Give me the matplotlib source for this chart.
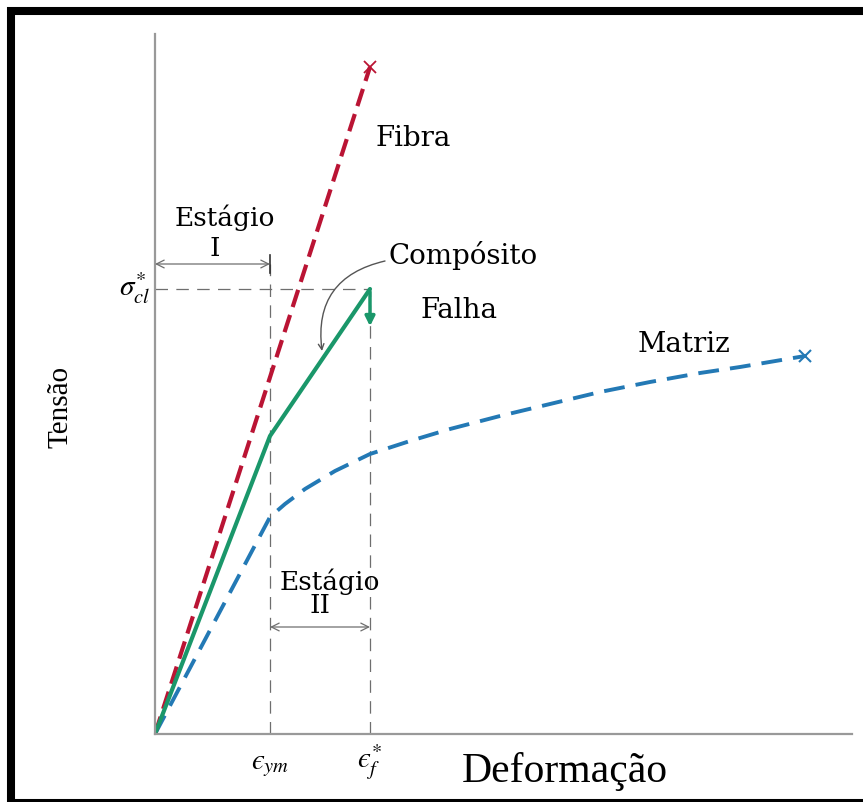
import matplotlib
matplotlib.use('Agg')
import matplotlib.pyplot as plt
from matplotlib.patches import Rectangle

plt.rcParams['mathtext.fontset'] = 'stix'
plt.rcParams['lines.scale_dashes'] = False

# curve data (arbitrary strain / stress units)
fibra_x = [0.0, 2.15]
fibra_y = [0.0, 6.67]

comp_x = [0.0, 1.15, 2.15]
comp_y = [0.0, 2.98, 4.45]
falha_y = 4.05

matriz_x = [0.0, 1.15, 1.30, 1.50, 1.80, 2.15, 2.55, 2.95, 3.45, 3.95, 4.45, 4.95, 5.45, 5.85, 6.50]
matriz_y = [0.0, 2.17, 2.30, 2.45, 2.63, 2.80, 2.93, 3.05, 3.18, 3.30, 3.42, 3.52, 3.61, 3.67, 3.78]

eps_ym = 1.15
eps_f = 2.15
sigma_cl = 4.45
stage1_y = 4.70
stage2_y = 1.07

RED = '#ba1434'
GREEN = '#1a976a'
BLUE = '#2379b5'
GRAY = '#6e6e6e'

fig = plt.figure(figsize=(8.63, 8.03), dpi=100)
ax = fig.add_axes([155 / 863, 68 / 803, 697 / 863, 700 / 803])
ax.set_xlim(0, 6.97)
ax.set_ylim(0, 7.0)
for side in ('top', 'right'):
    ax.spines[side].set_visible(False)
for side in ('left', 'bottom'):
    ax.spines[side].set_color('#999999')
    ax.spines[side].set_linewidth(1.6)
ax.set_xticks([])
ax.set_yticks([])

# guide lines
ax.plot([0, eps_f], [sigma_cl, sigma_cl], color=GRAY, lw=0.9, dashes=(9, 6))
ax.plot([eps_ym, eps_ym], [0, stage1_y], color=GRAY, lw=0.9, dashes=(9, 6))
ax.plot([eps_f, eps_f], [0, sigma_cl], color=GRAY, lw=0.9, dashes=(9, 6))

# curves
ax.plot(matriz_x, matriz_y, color=BLUE, lw=2.8, dashes=(15, 8))
ax.plot(matriz_x[-1], matriz_y[-1], marker='x', color=BLUE, ms=9, mew=1.5)
ax.plot(fibra_x, fibra_y, color=RED, lw=3.0, dashes=(13, 6))
ax.plot(fibra_x[-1], fibra_y[-1], marker='x', color=RED, ms=9, mew=1.3)
ax.plot(comp_x, comp_y, color=GREEN, lw=3.0, solid_capstyle='round')
ax.annotate('', xy=(eps_f, falha_y), xytext=(eps_f, sigma_cl),
            arrowprops=dict(arrowstyle='-|>', color=GREEN, lw=2.5, mutation_scale=14))

# stage arrows
ax.annotate('', xy=(0, stage1_y), xytext=(eps_ym, stage1_y),
            arrowprops=dict(arrowstyle='<->', color=GRAY, lw=0.9, shrinkA=0, shrinkB=0, mutation_scale=14))
ax.plot([eps_ym, eps_ym], [stage1_y - 0.09, stage1_y + 0.09], color='#333333', lw=1.2)
ax.annotate('', xy=(eps_ym, stage2_y), xytext=(eps_f, stage2_y),
            arrowprops=dict(arrowstyle='<->', color=GRAY, lw=0.9, shrinkA=0, shrinkB=0, mutation_scale=14))

# labels
serif_wide = 'DejaVu Serif'
ax.text(0.70, 5.17, 'Estágio', family=serif_wide, fontsize=19, ha='center', va='center')
ax.text(0.60, 4.86, 'I', family=serif_wide, fontsize=19, ha='center', va='center')
ax.text(1.75, 1.53, 'Estágio', family=serif_wide, fontsize=19, ha='center', va='center')
ax.text(1.65, 1.29, 'II', family=serif_wide, fontsize=19, ha='center', va='center')
ax.text(2.20, 5.97, 'Fibra', family=serif_wide, fontsize=20, ha='left', va='center')
ax.text(2.33, 4.80, 'Compósito', family=serif_wide, fontsize=20, ha='left', va='center')
ax.text(2.65, 4.25, 'Falha', family=serif_wide, fontsize=20, ha='left', va='center')
ax.text(4.83, 3.90, 'Matriz', family=serif_wide, fontsize=20, ha='left', va='center')
ax.annotate('', xy=(1.67, 3.83), xytext=(2.30, 4.73),
            arrowprops=dict(arrowstyle='->', color='#555555', lw=1.0,
                            connectionstyle='arc3,rad=0.45', shrinkA=0, shrinkB=0))

ax.text(eps_ym, -0.30, r'$ϵ_{ym}$', fontsize=21, ha='center', va='center')
ax.text(eps_f, -0.27, r'$ϵ_f^{*}$', fontsize=21, ha='center', va='center')
ax.text(-0.05, sigma_cl + 0.02, r'$\sigma_{cl}^{*}$', fontsize=21, ha='right', va='center')

fig.text(60 / 863, 1 - 407 / 803, 'Tensão', family='Liberation Serif', fontsize=21,
         rotation=90, ha='center', va='center')
fig.text(565 / 863, 1 - 772 / 803, 'Deformação', family='Liberation Serif', fontsize=30,
         ha='center', va='center')

# black frame
fig.patches.append(Rectangle((10.5 / 863, -0.5 / 803), 1.1, (803 - 11.5) / 803, transform=fig.transFigure,
                             fill=False, edgecolor='black', lw=5.8, clip_on=False))

fig.savefig('out.png', dpi=100)
